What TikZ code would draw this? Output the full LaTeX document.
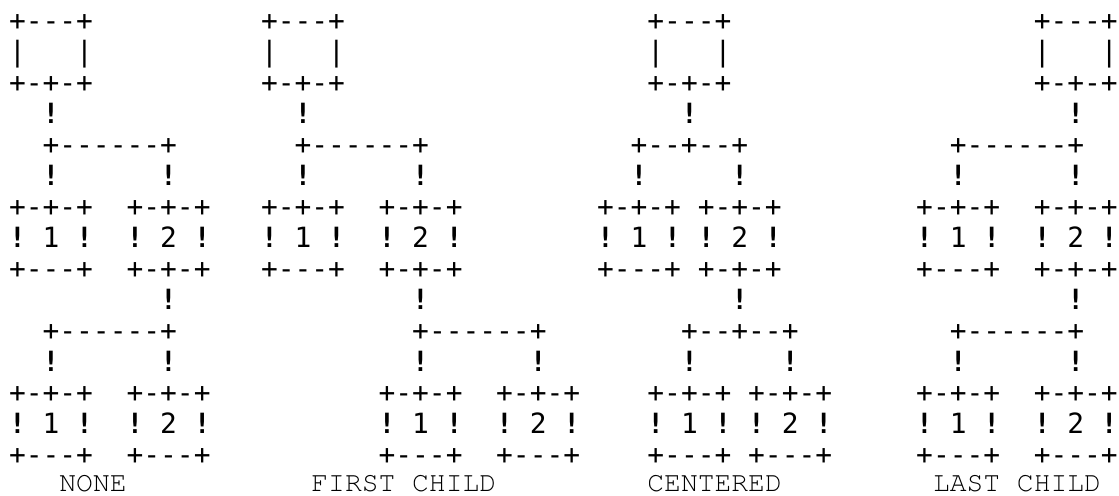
\documentclass[tikz,border=0pt]{standalone}
\usepackage{fontspec}
\newfontfamily\artfont[Ligatures=TeXOff]{DejaVu Sans Mono}
\newcommand{\labelfont}{\fontencoding{OT1}\fontfamily{pcr}\fontseries{m}\fontshape{n}\fontsize{14}{16}\selectfont}
\newcommand{\bang}{{\bfseries !}}

\begin{document}
\begin{tikzpicture}[x=8.4pt, y=-15.5pt,
                    art/.style={font={\artfont\fontsize{13.95}{15.5}\selectfont}, anchor=base west, inner sep=0pt},
                    lbl/.style={font=\labelfont, anchor=base west, inner sep=0pt}]
    \useasboundingbox (-0.512,0.032) rectangle (66.095,16);
    % NONE
    \node[art] (none1)  at (0,1)  {+---+};
    \node[art] (none2)  at (0,2)  {|~~~|};
    \node[art] (none3)  at (0,3)  {+-+-+};
    \node[art] (none4)  at (2,4)  {\bang};
    \node[art] (none5)  at (2,5)  {+------+};
    \node[art] (none6)  at (2,6)  {\bang~~~~~~\bang};
    \node[art] (none7)  at (0,7)  {+-+-+~~+-+-+};
    \node[art] (none8)  at (0,8)  {\bang~1~\bang~~\bang~2~\bang};
    \node[art] (none9)  at (0,9)  {+---+~~+-+-+};
    \node[art] (none10) at (9,10) {\bang};
    \node[art] (none11) at (2,11) {+------+};
    \node[art] (none12) at (2,12) {\bang~~~~~~\bang};
    \node[art] (none13) at (0,13) {+-+-+~~+-+-+};
    \node[art] (none14) at (0,14) {\bang~1~\bang~~\bang~2~\bang};
    \node[art] (none15) at (0,15) {+---+~~+---+};
    \node[lbl] (nonelbl) at (3,15.9) {NONE};
    % FIRST CHILD
    \node[art] (first1)  at (15,1)  {+---+};
    \node[art] (first2)  at (15,2)  {|~~~|};
    \node[art] (first3)  at (15,3)  {+-+-+};
    \node[art] (first4)  at (17,4)  {\bang};
    \node[art] (first5)  at (17,5)  {+------+};
    \node[art] (first6)  at (17,6)  {\bang~~~~~~\bang};
    \node[art] (first7)  at (15,7)  {+-+-+~~+-+-+};
    \node[art] (first8)  at (15,8)  {\bang~1~\bang~~\bang~2~\bang};
    \node[art] (first9)  at (15,9)  {+---+~~+-+-+};
    \node[art] (first10) at (24,10) {\bang};
    \node[art] (first11) at (24,11) {+------+};
    \node[art] (first12) at (24,12) {\bang~~~~~~\bang};
    \node[art] (first13) at (22,13) {+-+-+~~+-+-+};
    \node[art] (first14) at (22,14) {\bang~1~\bang~~\bang~2~\bang};
    \node[art] (first15) at (22,15) {+---+~~+---+};
    \node[lbl] (firstlbl) at (18,15.9) {FIRST CHILD};
    % CENTERED
    \node[art] (cent1)  at (38,1)  {+---+};
    \node[art] (cent2)  at (38,2)  {|~~~|};
    \node[art] (cent3)  at (38,3)  {+-+-+};
    \node[art] (cent4)  at (40,4)  {\bang};
    \node[art] (cent5)  at (37,5)  {+--+--+};
    \node[art] (cent6)  at (37,6)  {\bang~~~~~\bang};
    \node[art] (cent7)  at (35,7)  {+-+-+~+-+-+};
    \node[art] (cent8)  at (35,8)  {\bang~1~\bang~\bang~2~\bang};
    \node[art] (cent9)  at (35,9)  {+---+~+-+-+};
    \node[art] (cent10) at (43,10) {\bang};
    \node[art] (cent11) at (40,11) {+--+--+};
    \node[art] (cent12) at (40,12) {\bang~~~~~\bang};
    \node[art] (cent13) at (38,13) {+-+-+~+-+-+};
    \node[art] (cent14) at (38,14) {\bang~1~\bang~\bang~2~\bang};
    \node[art] (cent15) at (38,15) {+---+~+---+};
    \node[lbl] (centlbl) at (38,15.9) {CENTERED};
    % LAST CHILD
    \node[art] (last1)  at (61,1)  {+---+};
    \node[art] (last2)  at (61,2)  {|~~~|};
    \node[art] (last3)  at (61,3)  {+-+-+};
    \node[art] (last4)  at (63,4)  {\bang};
    \node[art] (last5)  at (56,5)  {+------+};
    \node[art] (last6)  at (56,6)  {\bang~~~~~~\bang};
    \node[art] (last7)  at (54,7)  {+-+-+~~+-+-+};
    \node[art] (last8)  at (54,8)  {\bang~1~\bang~~\bang~2~\bang};
    \node[art] (last9)  at (54,9)  {+---+~~+-+-+};
    \node[art] (last10) at (63,10) {\bang};
    \node[art] (last11) at (56,11) {+------+};
    \node[art] (last12) at (56,12) {\bang~~~~~~\bang};
    \node[art] (last13) at (54,13) {+-+-+~~+-+-+};
    \node[art] (last14) at (54,14) {\bang~1~\bang~~\bang~2~\bang};
    \node[art] (last15) at (54,15) {+---+~~+---+};
    \node[lbl] (lastlbl) at (55,15.9) {LAST CHILD};
\end{tikzpicture}
\end{document}
